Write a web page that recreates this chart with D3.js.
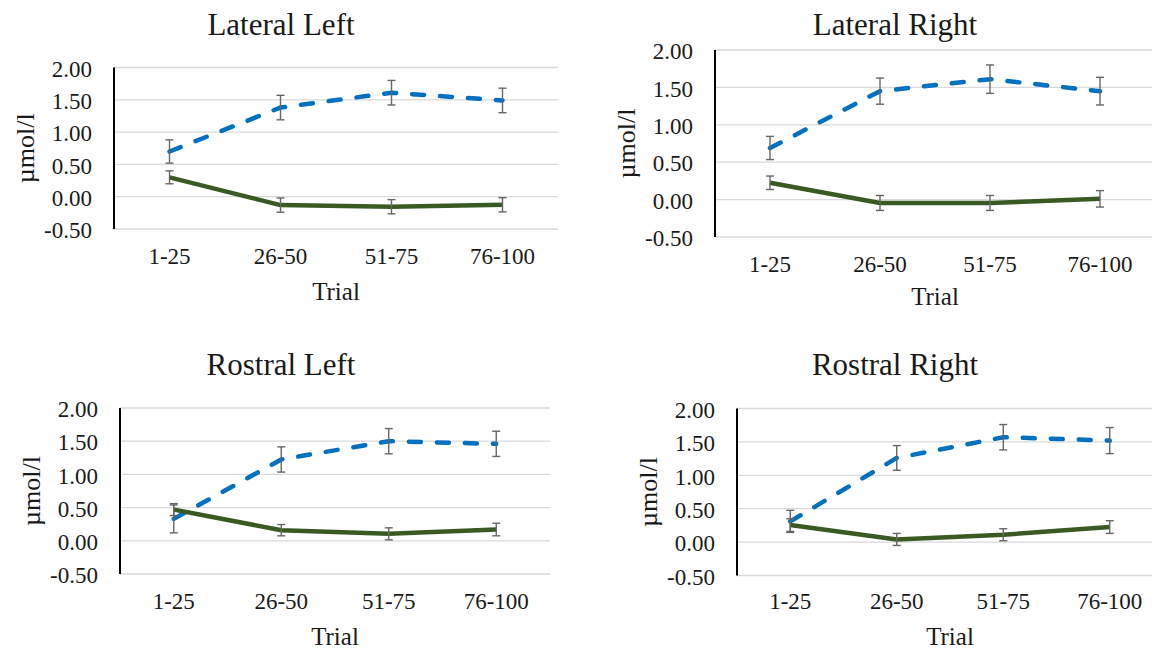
<!DOCTYPE html>
<html lang="en">

<head>
    <meta charset="UTF-8">
    <title>Trial panels</title>
    <script src="https://d3js.org/d3.v7.min.js"></script>
    <style>
        body { margin: 0; background: #fff; }
        text { font-family: "Liberation Serif", "Times New Roman", serif; fill: #1a1a1a; }
    </style>
</head>

<body>
    <script>
        // data
        var categories = ["1-25", "26-50", "51-75", "76-100"];
        var yTicks = [-0.5, 0, 0.5, 1, 1.5, 2];
        var panelTitles = ["Lateral Left", "Lateral Right", "Rostral Left", "Rostral Right"];

        var lateralLeftBlue = [0.70, 1.38, 1.61, 1.49];
        var lateralLeftBlueErr = [0.18, 0.19, 0.19, 0.19];
        var lateralLeftGreen = [0.30, -0.13, -0.155, -0.125];
        var lateralLeftGreenErr = [0.10, 0.11, 0.11, 0.11];

        var lateralRightBlue = [0.69, 1.45, 1.61, 1.45];
        var lateralRightBlueErr = [0.155, 0.175, 0.19, 0.185];
        var lateralRightGreen = [0.225, -0.045, -0.045, 0.01];
        var lateralRightGreenErr = [0.09, 0.10, 0.10, 0.11];

        var rostralLeftBlue = [0.33, 1.225, 1.50, 1.46];
        var rostralLeftBlueErr = [0.21, 0.19, 0.19, 0.19];
        var rostralLeftGreen = [0.47, 0.16, 0.105, 0.17];
        var rostralLeftGreenErr = [0.09, 0.085, 0.09, 0.095];

        var rostralRightBlue = [0.31, 1.26, 1.57, 1.52];
        var rostralRightBlueErr = [0.165, 0.185, 0.19, 0.195];
        var rostralRightGreen = [0.255, 0.04, 0.11, 0.225];
        var rostralRightGreenErr = [0.095, 0.09, 0.09, 0.095];

        var blueSeries = [lateralLeftBlue, lateralRightBlue, rostralLeftBlue, rostralRightBlue];
        var blueErrs = [lateralLeftBlueErr, lateralRightBlueErr, rostralLeftBlueErr, rostralRightBlueErr];
        var greenSeries = [lateralLeftGreen, lateralRightGreen, rostralLeftGreen, rostralRightGreen];
        var greenErrs = [lateralLeftGreenErr, lateralRightGreenErr, rostralLeftGreenErr, rostralRightGreenErr];

        // panel placement
        var layouts = [
            { x0: 114, x1: 558, top: 67.5, bottom: 229, titleX: 281, titleY: 35, tickY: 264, trialY: 300 },
            { x0: 715, x1: 1155, top: 50, bottom: 237, titleX: 895, titleY: 35, tickY: 272, trialY: 305 },
            { x0: 120, x1: 550, top: 408, bottom: 574, titleX: 281, titleY: 375, tickY: 609, trialY: 645 },
            { x0: 737, x1: 1163, top: 408.5, bottom: 575.5, titleX: 895, titleY: 375, tickY: 609, trialY: 645 }
        ];

        var width = 1152, height = 650;
        var svg = d3.select("body").append("svg")
            .attr("width", width)
            .attr("height", height);

        var blue = "#0070c0", green = "#3a5a24", errColor = "#666";
        var fmt = function (d) { return d3.format(".2f")(d).replace("\u2212", "-"); };

        layouts.forEach(function (L, p) {
            var g = svg.append("g");
            var x = d3.scaleBand().domain(categories).range([L.x0, L.x1]);
            var y = d3.scaleLinear().domain([-0.5, 2]).range([L.bottom, L.top]);
            var cx = function (i) { return x(categories[i]) + x.bandwidth() / 2; };

            // gridlines
            g.selectAll("line.grid").data(yTicks).enter().append("line")
                .attr("class", "grid")
                .attr("x1", L.x0).attr("x2", L.x1)
                .attr("y1", function (d) { return y(d); })
                .attr("y2", function (d) { return y(d); })
                .attr("stroke", "#d9d9d9").attr("stroke-width", 1.3);

            // y tick labels
            g.selectAll("text.ytick").data(yTicks).enter().append("text")
                .attr("class", "ytick")
                .attr("x", L.x0 - 22)
                .attr("y", function (d) { return y(d); })
                .attr("dy", "0.4em")
                .attr("text-anchor", "end")
                .style("font-size", "23px")
                .text(fmt);

            // x tick labels
            g.selectAll("text.xtick").data(categories).enter().append("text")
                .attr("class", "xtick")
                .attr("x", function (d) { return x(d) + x.bandwidth() / 2; })
                .attr("y", L.tickY)
                .attr("text-anchor", "middle")
                .style("font-size", "23px")
                .text(function (d) { return d; });

            // y axis line
            g.append("line")
                .attr("x1", L.x0).attr("x2", L.x0)
                .attr("y1", L.top).attr("y2", L.bottom)
                .attr("stroke", "#000").attr("stroke-width", 2);

            var line = d3.line()
                .x(function (d, i) { return cx(i); })
                .y(function (d) { return y(d); });

            g.append("path")
                .attr("d", line(blueSeries[p]))
                .attr("fill", "none")
                .attr("stroke", blue)
                .attr("stroke-width", 4.5)
                .attr("stroke-linecap", "round")
                .attr("stroke-dasharray", "12,16");

            g.append("path")
                .attr("d", line(greenSeries[p]))
                .attr("fill", "none")
                .attr("stroke", green)
                .attr("stroke-width", 4.5)
                .attr("stroke-linejoin", "round");

            // error bars
            [[blueSeries[p], blueErrs[p]], [greenSeries[p], greenErrs[p]]].forEach(function (s) {
                var vals = s[0], errs = s[1];
                vals.forEach(function (v, i) {
                    var xc = cx(i), yHi = y(v + errs[i]), yLo = y(v - errs[i]);
                    g.append("line").attr("x1", xc).attr("x2", xc).attr("y1", yHi).attr("y2", yLo)
                        .attr("stroke", errColor).attr("stroke-width", 1.4);
                    [yHi, yLo].forEach(function (yy) {
                        g.append("line").attr("x1", xc - 4).attr("x2", xc + 4).attr("y1", yy).attr("y2", yy)
                            .attr("stroke", errColor).attr("stroke-width", 1.4);
                    });
                });
            });

            // titles
            g.append("text")
                .attr("x", L.titleX).attr("y", L.titleY)
                .attr("text-anchor", "middle")
                .style("font-size", "31px")
                .text(panelTitles[p]);

            g.append("text")
                .attr("x", (L.x0 + L.x1) / 2).attr("y", L.trialY)
                .attr("text-anchor", "middle")
                .style("font-size", "25px")
                .text("Trial");

            g.append("text")
                .attr("transform", "translate(" + (L.x0 - 80) + "," + ((L.top + L.bottom) / 2) + ") rotate(-90)")
                .attr("text-anchor", "middle")
                .style("font-size", "26px")
                .text("µmol/l");
        });
    </script>
</body>

</html>
